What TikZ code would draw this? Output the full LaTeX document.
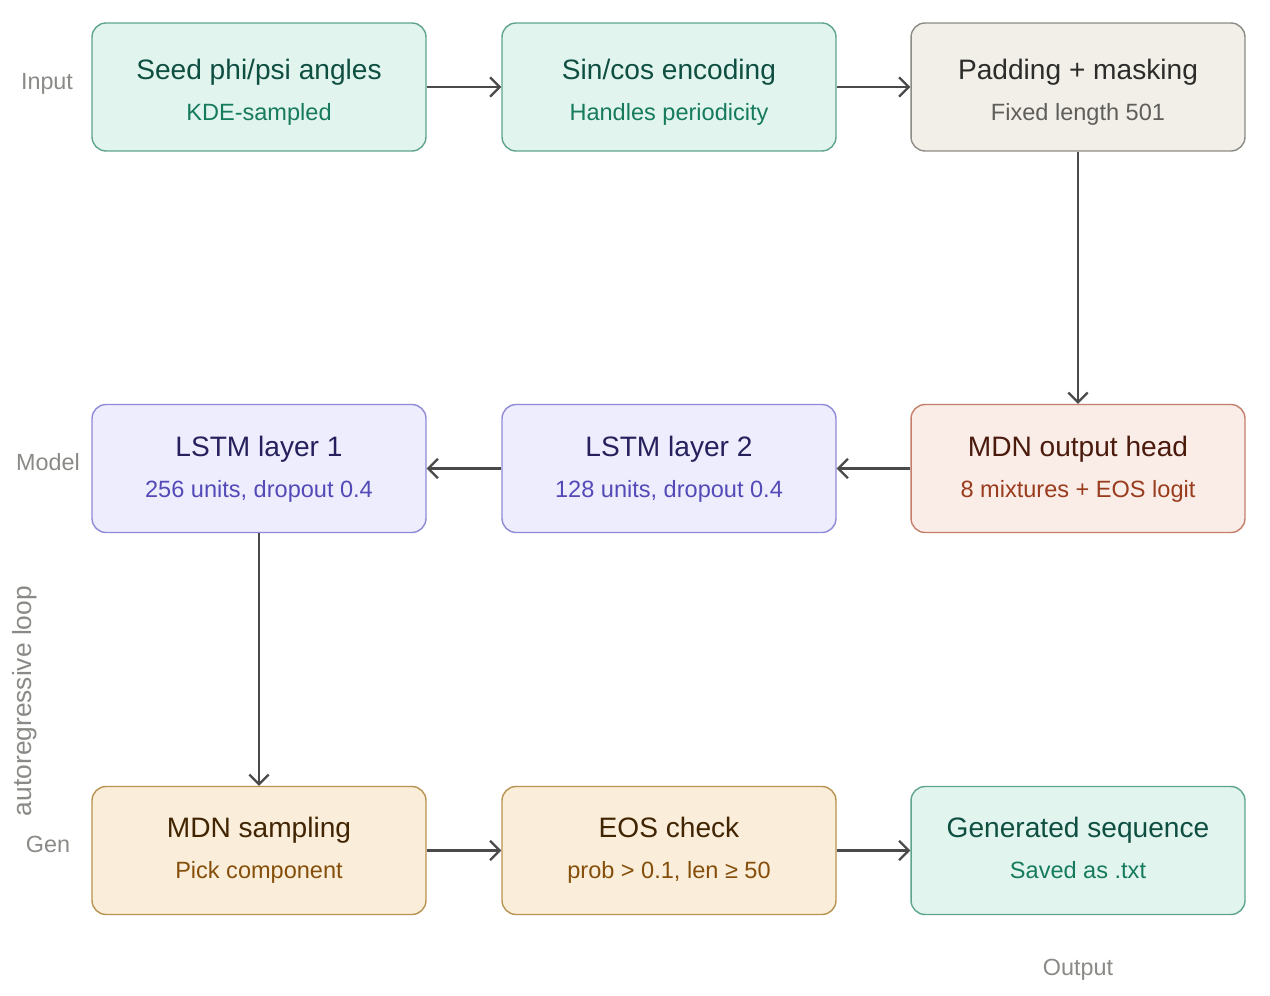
\documentclass[tikz,border=0pt]{standalone}
\usepackage{fontspec}
\setmainfont{Liberation Sans}
\usetikzlibrary{arrows.meta,calc}
\definecolor{tealfill}{HTML}{E1F5EE}\definecolor{tealdraw}{HTML}{5FA58D}
\definecolor{tealtitle}{HTML}{0F4F42}\definecolor{tealsub}{HTML}{167A5C}
\definecolor{grayfill}{HTML}{F1EFE8}\definecolor{graydraw}{HTML}{8C8B85}
\definecolor{graytitle}{HTML}{2C2C2A}\definecolor{graysub}{HTML}{5F5E5A}
\definecolor{purpfill}{HTML}{EEEDFE}\definecolor{purpdraw}{HTML}{8F8AD6}
\definecolor{purptitle}{HTML}{26215C}\definecolor{purpsub}{HTML}{534AB7}
\definecolor{redfill}{HTML}{FAECE7}\definecolor{reddraw}{HTML}{C47F6A}
\definecolor{redtitle}{HTML}{4A1B0C}\definecolor{redsub}{HTML}{993C1D}
\definecolor{orfill}{HTML}{FAEEDA}\definecolor{ordraw}{HTML}{B8924F}
\definecolor{ortitle}{HTML}{412402}\definecolor{orsub}{HTML}{854F0B}
\definecolor{sidegray}{HTML}{8A8A86}
\definecolor{arrowgray}{HTML}{4A4A4A}
\tikzset{
  box/.style={rectangle, rounded corners=0.28cm, minimum width=6.68cm, minimum height=2.56cm, line width=0.8pt, inner sep=0pt},
  tealbox/.style={box, fill=tealfill, draw=tealdraw},
  graybox/.style={box, fill=grayfill, draw=graydraw},
  purpbox/.style={box, fill=purpfill, draw=purpdraw},
  redbox/.style={box, fill=redfill, draw=reddraw},
  orbox/.style={box, fill=orfill, draw=ordraw},
  ttl/.style={anchor=base, font=\fontsize{16}{18}\selectfont, inner sep=0pt},
  sub/.style={anchor=base, font=\fontsize{13.4}{15}\selectfont, inner sep=0pt},
  side/.style={text=sidegray, font=\fontsize{13.3}{15}\selectfont, inner sep=0pt},
  conn/.style={draw=arrowgray, line width=1.2pt, -{Straight Barb[length=5.5pt,width=11pt,line width=1.3pt]}},
}
% name, x, y, boxstyle, colour prefix, title, sub, title offset, sub offset
\newcommand{\blk}[9]{%
  \node[#4] (#1) at (#2,#3) {};
  \node[ttl, text=#5title] (#1t) at ($(#1.center)+(0,#8)$) {#6};
  \node[sub, text=#5sub] (#1s) at ($(#1.center)+(0,#9)$) {#7};
}
\begin{document}
\begin{tikzpicture}[x=0.02cm,y=-0.02cm]
\useasboundingbox[fill=white] (0,0) rectangle (1270,996);
\blk{seed}{259}{87}{tealbox}{teal}{Seed phi/psi angles}{KDE-sampled}{-7.5}{33.5}
\blk{enc}{669}{87}{tealbox}{teal}{Sin/cos encoding}{Handles periodicity}{-7.5}{33.5}
\blk{pad}{1078}{87}{graybox}{gray}{Padding + masking}{Fixed length 501}{-7.5}{33.5}
\blk{lstmA}{259}{468.5}{purpbox}{purp}{LSTM layer 1}{256 units, dropout 0.4}{-12.5}{28.5}
\blk{lstmB}{669}{468.5}{purpbox}{purp}{LSTM layer 2}{128 units, dropout 0.4}{-12.5}{28.5}
\blk{mdn}{1078}{468.5}{redbox}{red}{MDN output head}{8 mixtures + EOS logit}{-12.5}{28.5}
\blk{samp}{259}{850.5}{orbox}{or}{MDN sampling}{Pick component}{-13.5}{27.5}
\blk{eos}{669}{850.5}{orbox}{or}{EOS check}{prob > 0.1, len ≥ 50}{-13.5}{27.5}
\blk{gen}{1078}{850.5}{tealbox}{teal}{Generated sequence}{Saved as .txt}{-13.5}{27.5}
\node[side] (lin) at (47,84) {Input};
\node[side] (lmod) at (48,462) {Model};
\node[side] (lgen) at (48,844) {Gen};
\node[side] (lout) at (1078,970) {Output};
\node[side, rotate=90, font=\fontsize{15}{17}\selectfont] (lloop) at (25,701) {autoregressive loop};
\draw[conn] (seed.east) -- (enc.west);
\draw[conn] (enc.east) -- (pad.west);
\draw[conn] (pad.south) -- (mdn.north);
\draw[conn] (mdn.west) -- (lstmB.east);
\draw[conn] (lstmB.west) -- (lstmA.east);
\draw[conn] (lstmA.south) -- (samp.north);
\draw[conn] (samp.east) -- (eos.west);
\draw[conn] (eos.east) -- (gen.west);
\end{tikzpicture}
\end{document}
